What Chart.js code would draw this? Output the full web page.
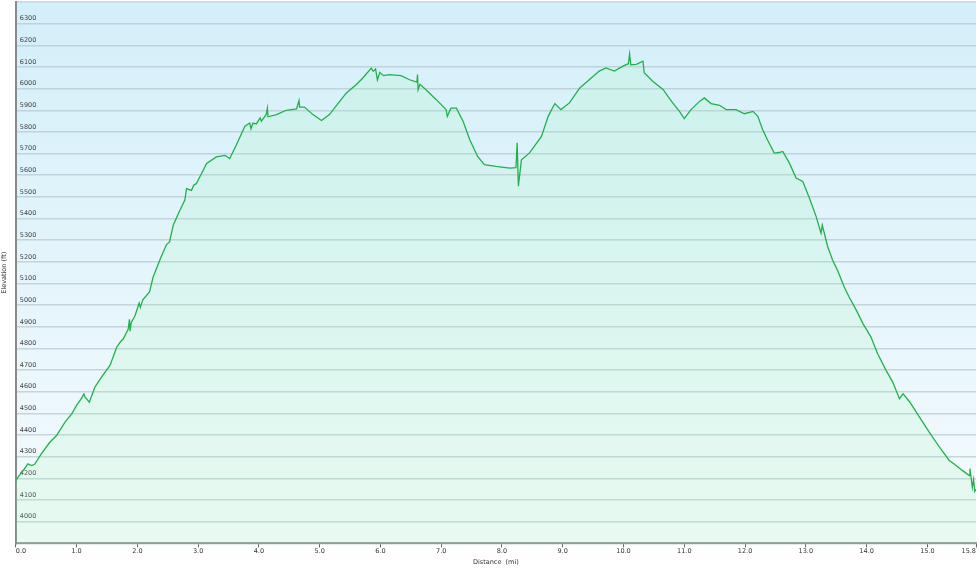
<!DOCTYPE html>
<html>
<head>
<meta charset="utf-8">
<script src="https://cdn.jsdelivr.net/npm/chart.js@4"></script>
<style>
  html, body { margin: 0; padding: 0; background: #fff; }
</style>
</head>
<body>
<canvas id="profile" width="980" height="570"></canvas>
<script>
// distance along the trail (mi) and elevation (ft)
const distances = [
  0.00, 0.06, 0.12, 0.20, 0.26, 0.31, 0.42, 0.56, 0.67, 0.81, 0.92, 1.00, 1.08, 1.12, 1.14, 1.21,
  1.30, 1.41, 1.55, 1.66, 1.72, 1.77, 1.85, 1.87, 1.88, 1.90, 1.96, 2.03, 2.05, 2.09, 2.20, 2.26,
  2.39, 2.48, 2.53, 2.59, 2.70, 2.78, 2.81, 2.89, 2.93, 2.97, 3.14, 3.30, 3.44, 3.52, 3.63, 3.77,
  3.85, 3.87, 3.90, 3.96, 4.02, 4.04, 4.12, 4.14, 4.15, 4.29, 4.45, 4.62, 4.66, 4.67, 4.75, 4.89,
  5.03, 5.16, 5.33, 5.44, 5.60, 5.71, 5.85, 5.88, 5.92, 5.95, 5.99, 6.05, 6.15, 6.34, 6.48, 6.60,
  6.61, 6.62, 6.65, 6.75, 6.92, 7.08, 7.10, 7.16, 7.25, 7.36, 7.47, 7.60, 7.71, 7.90, 8.13, 8.23,
  8.25, 8.27, 8.32, 8.45, 8.65, 8.76, 8.87, 8.97, 9.11, 9.28, 9.44, 9.60, 9.71, 9.85, 9.99, 10.08,
  10.10, 10.12, 10.21, 10.32, 10.34, 10.48, 10.65, 10.79, 10.92, 11.00, 11.11, 11.25, 11.33, 11.44, 11.58, 11.69,
  11.85, 11.99, 12.13, 12.21, 12.29, 12.37, 12.48, 12.56, 12.62, 12.73, 12.84, 12.95, 13.06, 13.17, 13.25, 13.27,
  13.36, 13.44, 13.52, 13.63, 13.71, 13.83, 13.94, 14.07, 14.18, 14.32, 14.43, 14.54, 14.60, 14.71, 14.87, 15.03,
  15.20, 15.36, 15.44, 15.58, 15.69, 15.70, 15.74, 15.76, 15.78, 15.80
];
const elevations = [
  4190, 4215, 4236, 4267, 4259, 4265, 4313, 4367, 4398, 4460, 4498, 4537, 4570, 4590, 4575, 4552,
  4621, 4668, 4722, 4806, 4830, 4845, 4890, 4935, 4880, 4920, 4950, 5010, 4990, 5025, 5061, 5130,
  5222, 5280, 5292, 5369, 5438, 5484, 5538, 5530, 5555, 5561, 5654, 5685, 5692, 5677, 5741, 5826,
  5841, 5815, 5840, 5838, 5865, 5850, 5880, 5910, 5870, 5880, 5900, 5906, 5945, 5915, 5915, 5880,
  5853, 5880, 5941, 5980, 6018, 6049, 6095, 6080, 6090, 6040, 6075, 6060, 6065, 6060, 6041, 6030,
  6065, 5995, 6020, 5995, 5949, 5903, 5872, 5910, 5910, 5849, 5764, 5687, 5649, 5641, 5633, 5635,
  5750, 5550, 5671, 5702, 5779, 5872, 5931, 5903, 5934, 6003, 6042, 6081, 6096, 6081, 6104, 6115,
  6160, 6110, 6112, 6127, 6073, 6034, 5996, 5941, 5895, 5861, 5903, 5941, 5957, 5931, 5923, 5903,
  5903, 5884, 5895, 5872, 5810, 5763, 5702, 5705, 5710, 5656, 5587, 5571, 5494, 5409, 5332, 5370,
  5270, 5209, 5162, 5085, 5039, 4977, 4915, 4854, 4777, 4699, 4645, 4568, 4591, 4553, 4483, 4414,
  4344, 4283, 4267, 4236, 4213, 4245, 4159, 4195, 4140, 4150
];
const xTicks = [0, 1, 2, 3, 4, 5, 6, 7, 8, 9, 10, 11, 12, 13, 14, 15, 15.8];
const yMin = 3900, yMax = 6400, yStep = 100;
const yLabelFirst = 4000, yLabelLast = 6300;

const points = distances.map((d, i) => ({ x: d, y: elevations[i] }));

// light blue -> near white behind the plot
const plotBackground = {
  id: 'plotBackground',
  beforeDraw(chart) {
    const { ctx, chartArea: a } = chart;
    if (!a) return;
    const g = ctx.createLinearGradient(0, a.top, 0, a.bottom);
    g.addColorStop(0, '#d3eff9');
    g.addColorStop(1, '#f6fbfd');
    ctx.save();
    ctx.fillStyle = g;
    ctx.fillRect(a.left, a.top, a.right - a.left, a.bottom - a.top);
    ctx.restore();
  }
};

const font = { family: "'DejaVu Sans', Verdana, sans-serif", size: 6.5 };

new Chart(document.getElementById('profile'), {
  type: 'line',
  data: {
    datasets: [{
      data: points,
      borderColor: '#22b04c',
      borderWidth: 1.3,
      pointRadius: 0,
      tension: 0,
      fill: 'start',
      backgroundColor: 'rgba(150, 245, 170, 0.14)'
    }]
  },
  options: {
    responsive: false,
    animation: false,
    layout: { padding: { left: 0, right: 4, top: 2, bottom: 4 } },
    plugins: {
      legend: { display: false },
      tooltip: { enabled: false }
    },
    scales: {
      x: {
        type: 'linear',
        min: 0,
        max: 15.8,
        afterBuildTicks: scale => { scale.ticks = xTicks.map(v => ({ value: v })); },
        afterFit: scale => { scale.paddingLeft = 0; scale.paddingRight = 0; },
        ticks: {
          autoSkip: false,
          maxRotation: 0,
          padding: 0,
          align: 'inner',
          color: '#333',
          font: font,
          callback: v => Number(v).toFixed(1)
        },
        grid: { drawOnChartArea: false, drawTicks: true, tickLength: 4, tickColor: '#666' },
        border: { color: '#9a9a9a', width: 2 },
        title: {
          display: true,
          text: 'Distance  (mi)',
          color: '#333',
          font: font,
          padding: { top: 3, bottom: 0 }
        }
      },
      y: {
        min: yMin,
        max: yMax,
        afterFit: scale => { scale.paddingTop = 0; scale.paddingBottom = 0; },
        ticks: {
          stepSize: yStep,
          mirror: true,
          padding: 4,
          labelOffset: -5,
          color: '#444',
          font: font,
          callback: v => (v >= yLabelFirst && v <= yLabelLast) ? String(v) : ''
        },
        grid: { color: 'rgba(180, 198, 206, 0.7)', lineWidth: 1.5, drawTicks: false },
        border: { color: '#8a8a8a', width: 2 },
        title: {
          display: true,
          text: 'Elevation (ft)',
          color: '#333',
          font: font,
          padding: { top: 0, bottom: 0 }
        }
      }
    }
  },
  plugins: [plotBackground]
});
</script>
</body>
</html>
